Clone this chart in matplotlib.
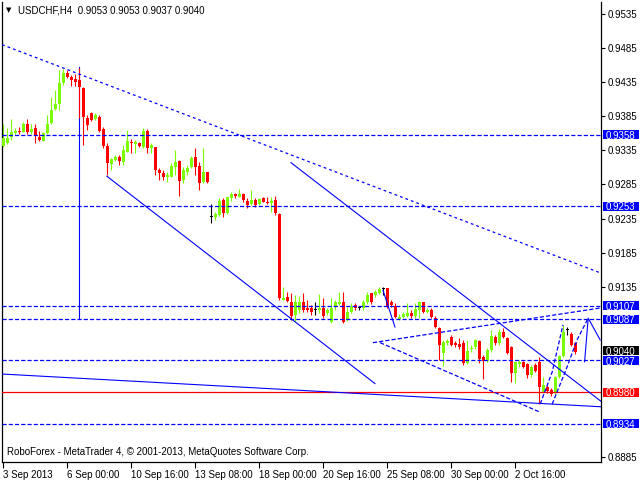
import numpy as np
import matplotlib
matplotlib.use("Agg")
import matplotlib.pyplot as plt
from matplotlib.patches import Rectangle
from matplotlib.transforms import blended_transform_factory

plt.rcParams["font.family"] = ["Liberation Sans", "DejaVu Sans"]
plt.rcParams["lines.scale_dashes"] = False

BLUE = "#0000FF"
BULL = "#7CFC00"
BEAR = "#FF0000"

# USDCHF H4 candles, 3 Sep - 4 Oct 2013
opens = [0.9341, 0.9346, 0.9355, 0.9360, 0.9363, 0.9362, 0.9374, 0.9362, 0.9368, 0.9355,
         0.9349, 0.9360, 0.9375, 0.9396, 0.9403, 0.9434, 0.9448, 0.9443, 0.9440, 0.9438,
         0.9426, 0.9382, 0.9390, 0.9381, 0.9384, 0.9366, 0.9341, 0.9315, 0.9321, 0.9325,
         0.9318, 0.9333, 0.9347, 0.9344, 0.9346, 0.9340, 0.9363, 0.9338, 0.9340, 0.9306,
         0.9302, 0.9296, 0.9296, 0.9311, 0.9319, 0.9292, 0.9303, 0.9311, 0.9325, 0.9312,
         0.9289, 0.9303, 0.9237, 0.9237, 0.9240, 0.9262, 0.9243, 0.9265, 0.9271, 0.9267,
         0.9271, 0.9261, 0.9256, 0.9262, 0.9256, 0.9265, 0.9259, 0.9258, 0.9262, 0.9242,
         0.9116, 0.9120, 0.9113, 0.9094, 0.9101, 0.9112, 0.9104, 0.9104, 0.9101, 0.9101,
         0.9104, 0.9096, 0.9083, 0.9105, 0.9110, 0.9113, 0.9086, 0.9098, 0.9108, 0.9104,
         0.9104, 0.9112, 0.9126, 0.9123, 0.9126, 0.9132, 0.9133, 0.9113, 0.9107, 0.9088,
         0.9091, 0.9092, 0.9096, 0.9092, 0.9101, 0.9112, 0.9098, 0.9101, 0.9089, 0.9075,
         0.9038, 0.9052, 0.9061, 0.9052, 0.9051, 0.9052, 0.9023, 0.9043, 0.9047, 0.9055,
         0.9032, 0.9026, 0.9042, 0.9061, 0.9052, 0.9069, 0.9060, 0.9047, 0.9009, 0.9021,
         0.9025, 0.9022, 0.9006, 0.9020, 0.9025, 0.8981, 0.8988, 0.8984, 0.8979, 0.9003,
         0.9033, 0.9072, 0.9066, 0.9053]
highs = [0.9374, 0.9368, 0.9381, 0.9368, 0.9369, 0.9376, 0.9381, 0.9374, 0.9374, 0.9363,
         0.9362, 0.9387, 0.9413, 0.9424, 0.9453, 0.9454, 0.9453, 0.9446, 0.9447, 0.9456,
         0.9428, 0.9387, 0.9391, 0.9390, 0.9387, 0.9369, 0.9346, 0.9324, 0.9328, 0.9328,
         0.9343, 0.9365, 0.9352, 0.9350, 0.9347, 0.9368, 0.9366, 0.9346, 0.9340, 0.9309,
         0.9306, 0.9303, 0.9316, 0.9336, 0.9321, 0.9311, 0.9314, 0.9327, 0.9338, 0.9318,
         0.9338, 0.9303, 0.9256, 0.9245, 0.9265, 0.9265, 0.9267, 0.9274, 0.9272, 0.9278,
         0.9272, 0.9265, 0.9277, 0.9265, 0.9265, 0.9267, 0.9267, 0.9267, 0.9268, 0.9243,
         0.9135, 0.9127, 0.9126, 0.9123, 0.9121, 0.9126, 0.9116, 0.9108, 0.9113, 0.9124,
         0.9118, 0.9104, 0.9118, 0.9116, 0.9127, 0.9127, 0.9105, 0.9111, 0.9111, 0.9107,
         0.9116, 0.9127, 0.9126, 0.9130, 0.9135, 0.9135, 0.9133, 0.9116, 0.9111, 0.9095,
         0.9098, 0.9111, 0.9101, 0.9111, 0.9114, 0.9113, 0.9104, 0.9104, 0.9092, 0.9076,
         0.9057, 0.9058, 0.9064, 0.9055, 0.9060, 0.9057, 0.9057, 0.9050, 0.9058, 0.9057,
         0.9035, 0.9045, 0.9072, 0.9064, 0.9073, 0.9075, 0.9061, 0.9048, 0.9025, 0.9028,
         0.9026, 0.9023, 0.9020, 0.9023, 0.9032, 0.9003, 0.8991, 0.8987, 0.9004, 0.9035,
         0.9079, 0.9076, 0.9069, 0.9053]
lows = [0.9340, 0.9344, 0.9350, 0.9359, 0.9359, 0.9362, 0.9359, 0.9359, 0.9346, 0.9349,
        0.9349, 0.9359, 0.9374, 0.9394, 0.9394, 0.9431, 0.9441, 0.9429, 0.9429, 0.9382,
        0.9343, 0.9365, 0.9378, 0.9380, 0.9362, 0.9338, 0.9299, 0.9306, 0.9319, 0.9314,
        0.9314, 0.9333, 0.9331, 0.9331, 0.9340, 0.9338, 0.9331, 0.9331, 0.9299, 0.9292,
        0.9292, 0.9289, 0.9296, 0.9299, 0.9268, 0.9287, 0.9299, 0.9309, 0.9299, 0.9277,
        0.9287, 0.9287, 0.9229, 0.9233, 0.9239, 0.9237, 0.9242, 0.9261, 0.9265, 0.9267,
        0.9259, 0.9250, 0.9255, 0.9252, 0.9255, 0.9259, 0.9256, 0.9245, 0.9240, 0.9116,
        0.9116, 0.9112, 0.9086, 0.9083, 0.9096, 0.9098, 0.9098, 0.9094, 0.9094, 0.9096,
        0.9089, 0.9094, 0.9082, 0.9101, 0.9108, 0.9082, 0.9085, 0.9096, 0.9101, 0.9101,
        0.9101, 0.9110, 0.9110, 0.9120, 0.9124, 0.9123, 0.9104, 0.9105, 0.9089, 0.9086,
        0.9089, 0.9091, 0.9089, 0.9089, 0.9089, 0.9096, 0.9096, 0.9089, 0.9075, 0.9028,
        0.9019, 0.9050, 0.9048, 0.9047, 0.9044, 0.9020, 0.9022, 0.9039, 0.9044, 0.9023,
        0.9000, 0.9025, 0.9039, 0.9050, 0.9050, 0.9060, 0.9036, 0.8995, 0.8994, 0.9017,
        0.9016, 0.9001, 0.9003, 0.9010, 0.8963, 0.8979, 0.8979, 0.8975, 0.8976, 0.9001,
        0.9032, 0.9064, 0.9048, 0.9037]
closes = [0.9353, 0.9353, 0.9362, 0.9363, 0.9362, 0.9374, 0.9362, 0.9366, 0.9356, 0.9350,
          0.9360, 0.9374, 0.9394, 0.9403, 0.9434, 0.9448, 0.9443, 0.9438, 0.9435, 0.9428,
          0.9384, 0.9372, 0.9380, 0.9387, 0.9363, 0.9341, 0.9316, 0.9322, 0.9325, 0.9319,
          0.9336, 0.9349, 0.9346, 0.9347, 0.9341, 0.9363, 0.9338, 0.9343, 0.9306, 0.9302,
          0.9296, 0.9299, 0.9312, 0.9318, 0.9290, 0.9306, 0.9309, 0.9324, 0.9311, 0.9287,
          0.9303, 0.9289, 0.9237, 0.9242, 0.9261, 0.9243, 0.9267, 0.9271, 0.9268, 0.9271,
          0.9262, 0.9255, 0.9262, 0.9255, 0.9264, 0.9259, 0.9258, 0.9261, 0.9243, 0.9119,
          0.9119, 0.9114, 0.9092, 0.9113, 0.9112, 0.9101, 0.9101, 0.9098, 0.9101, 0.9104,
          0.9092, 0.9101, 0.9104, 0.9112, 0.9112, 0.9083, 0.9098, 0.9105, 0.9104, 0.9104,
          0.9113, 0.9123, 0.9112, 0.9127, 0.9132, 0.9132, 0.9105, 0.9108, 0.9091, 0.9091,
          0.9095, 0.9096, 0.9092, 0.9102, 0.9113, 0.9098, 0.9101, 0.9091, 0.9076, 0.9050,
          0.9054, 0.9055, 0.9050, 0.9050, 0.9047, 0.9023, 0.9041, 0.9045, 0.9057, 0.9029,
          0.9026, 0.9042, 0.9063, 0.9052, 0.9069, 0.9061, 0.9038, 0.9009, 0.9025, 0.9025,
          0.9017, 0.9006, 0.9017, 0.9011, 0.8988, 0.8991, 0.8982, 0.8978, 0.9003, 0.9033,
          0.9069, 0.9072, 0.9050, 0.9040]

time_ticks  = [0, 16, 32, 48, 64, 80, 96, 112, 128]
time_labels = ["3 Sep 2013", "6 Sep 00:00", "10 Sep 16:00", "13 Sep 08:00", "18 Sep 00:00",
               "20 Sep 16:00", "25 Sep 08:00", "30 Sep 00:00", "2 Oct 16:00"]
price_ticks = [0.9535, 0.9485, 0.9435, 0.9385, 0.9335, 0.9285, 0.9235, 0.9185, 0.9135, 0.8885]

level_prices = [0.9358, 0.9253, 0.9107, 0.9087, 0.9027, 0.8934]
support_price = 0.8980
last_price = 0.9040

# drawn objects, (bar, price) end points
dotted_lines = [[(-0.3, 0.9490), (149.4, 0.9155)]]
solid_lines = [
    [(25.9, 0.9297), (92.9, 0.8993)],
    [(71.9, 0.9317), (149.4, 0.8967)],
    [(-0.3, 0.9007), (149.4, 0.8959)],
    [(94.9, 0.9130), (97.9, 0.9076)],
    [(145.3, 0.9025), (146.2, 0.9089), (149.2, 0.9057)],
]
dashed_lines = [
    [(92.4, 0.9053), (149.4, 0.9104)],
    [(94.2, 0.9053), (134.2, 0.8951)],
    [(134.2, 0.8963), (137.2, 0.9010), (139.9, 0.9079)],
    [(137.2, 0.8963), (140.9, 0.9017), (143.4, 0.9057), (146.2, 0.9089)],
]
vertical_line = [(19, 0.9457), (19, 0.9089)]

fig = plt.figure(figsize=(6.4, 4.8), dpi=100)
ax = fig.add_axes([2 / 640, 18 / 480, 599 / 640, 460 / 480])
ax.set_xlim(-0.33, 149.4)
ax.set_ylim(0.88780, 0.95526)

o = np.array(opens); h = np.array(highs); l = np.array(lows); c = np.array(closes)
idx = np.arange(len(o))
cols = np.where(c > o, BULL, np.where(c < o, BEAR, "black"))

(vx, vy) = zip(*vertical_line)
ax.plot(vx, vy, color=BLUE, lw=0.8, zorder=1)

ax.vlines(idx, l, h, colors=cols, lw=0.8, zorder=2)
lo = np.minimum(o, c)
hi = np.maximum(o, c)
ax.bar(idx, np.maximum(hi - lo, 0.00015), bottom=lo, width=0.72, color=cols,
       linewidth=0, zorder=3)

for p in level_prices:
    ax.axhline(p, color=BLUE, lw=0.9, ls=(0, (3.0, 1.5)), zorder=4)
ax.axhline(support_price, color=BEAR, lw=0.9, zorder=4)

for pts in dotted_lines:
    xs, ys = zip(*pts)
    ax.plot(xs, ys, color=BLUE, lw=0.9, ls=(0, (2.0, 2.2)), zorder=4)
for pts in solid_lines:
    xs, ys = zip(*pts)
    ax.plot(xs, ys, color=BLUE, lw=0.8, zorder=4)
for pts in dashed_lines:
    xs, ys = zip(*pts)
    ax.plot(xs, ys, color=BLUE, lw=0.9, ls=(0, (3.0, 1.5)), zorder=4)

# axes styling
for s in ["left", "right", "bottom"]:
    ax.spines[s].set_linewidth(0.9)
ax.spines["top"].set_visible(False)
ax.yaxis.tick_right()
ax.set_yticks(price_ticks)
ax.set_yticklabels([f"{v:.4f}" for v in price_ticks])
ax.tick_params(axis="y", length=3, width=0.8, pad=2, labelsize=7)
ax.set_xticks(time_ticks)
ax.set_xticklabels(time_labels, ha="left")
ax.tick_params(axis="x", length=4, width=0.8, pad=1.5, labelsize=7)

# price boxes on the right scale
tr = blended_transform_factory(ax.transAxes, ax.transData)
box_h = 9.0 / 6819
x0 = 1 + 1.5 / 599
bw = 36 / 599
tags = [(p, BLUE) for p in level_prices] + [(support_price, BEAR), (last_price, "black")]
for p, col in tags:
    yc = p
    if p == last_price:
        yc = p + 0.0001
    if p == 0.9027:
        yc = p - 0.00005
    ax.add_patch(Rectangle((x0, yc - box_h / 2), bw, box_h, transform=tr,
                           facecolor=col, edgecolor="none", clip_on=False, zorder=5))
    ax.text(x0 + 3 / 599, yc, f"{p:.4f}", transform=tr, color="white", fontsize=7,
            va="center_baseline", ha="left", zorder=6, clip_on=False)

fig.text(9 / 640, 1 - 10.5 / 480, "\u25bc", fontsize=5, ha="center", va="center",
         family=["DejaVu Sans"])
fig.text(18 / 640, 1 - 10.5 / 480, "USDCHF,H4  0.9053 0.9053 0.9037 0.9040",
         fontsize=7, ha="left", va="center")
fig.text(7 / 640, 1 - 452 / 480,
         "RoboForex - MetaTrader 4, \u00a9 2001-2013, MetaQuotes Software Corp.",
         fontsize=7, ha="left", va="center")

fig.savefig("out.png", dpi=100)
